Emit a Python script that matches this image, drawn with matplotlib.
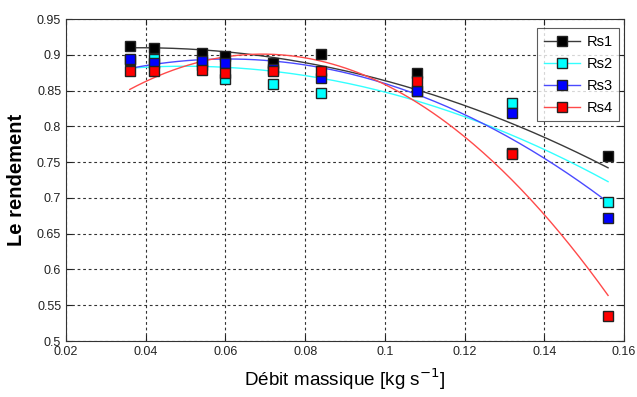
import numpy as np
import matplotlib
matplotlib.use("Agg")
import matplotlib.pyplot as plt

plt.rcParams['font.family'] = ['Liberation Sans', 'DejaVu Sans']

debit = [0.036, 0.042, 0.054, 0.060, 0.072, 0.084, 0.108, 0.132, 0.156]
rs1 = [0.913, 0.909, 0.903, 0.898, 0.889, 0.901, 0.875, 0.763, 0.758]
rs2 = [0.893, 0.894, 0.886, 0.866, 0.859, 0.846, 0.850, 0.833, 0.694]
rs3 = [0.894, 0.888, 0.891, 0.888, 0.880, 0.867, 0.850, 0.819, 0.672]
rs4 = [0.877, 0.877, 0.879, 0.874, 0.877, 0.877, 0.864, 0.761, 0.535]
names = ['Rs1', 'Rs2', 'Rs3', 'Rs4']
series = [rs1, rs2, rs3, rs4]
line_colors = ['#3a3a3a', '#33ffff', '#4a4aff', '#ff4a4a']
face_colors = ['#000000', '#00ffff', '#0000ff', '#ff0000']
fit_degree = 2

fig = plt.figure(figsize=(6.37, 3.97), dpi=100)
ax = fig.add_axes([0.1036, 0.141, 0.876, 0.811])

x = np.array(debit)
xs = np.linspace(x.min(), x.max(), 200)
for name, ys, lc, fc in zip(names, series, line_colors, face_colors):
    coef = np.polyfit(x, np.array(ys), fit_degree)
    ax.plot(xs, np.polyval(coef, xs), color=lc, lw=1.0, zorder=2)
handles = []
for name, ys, lc, fc in zip(names, series, line_colors, face_colors):
    ax.plot(debit, ys, 's', ms=7.3, mfc=fc, mec='#222222', mew=1.0, zorder=3)
    h, = ax.plot([], [], '-s', color=lc, lw=1.0, ms=7.3, mfc=fc, mec='#222222', mew=1.0, label=name)
    handles.append(h)

ax.set_xlim(0.02, 0.16)
ax.set_ylim(0.5, 0.95)
ax.set_xticks(np.arange(0.02, 0.1601, 0.02))
ax.set_xticklabels(['0.02', '0.04', '0.06', '0.08', '0.1', '0.12', '0.14', '0.16'])
ax.set_yticks(np.arange(0.5, 0.9501, 0.05))
ax.set_yticklabels(['0.5', '0.55', '0.6', '0.65', '0.7', '0.75', '0.8', '0.85', '0.9', '0.95'])
ax.tick_params(direction='in', length=4, labelsize=9, colors='#222222', top=True, right=True)
ax.tick_params(labeltop=False, labelright=False)
for sp in ax.spines.values():
    sp.set_color('#333333')
    sp.set_linewidth(0.8)
ax.grid(True, color='#333333', linestyle=(0, (2.5, 2.5)), lw=0.8)
ax.set_axisbelow(True)

ax.set_xlabel('Débit massique [kg s$^{-1}$]', fontsize=13.6, labelpad=6)
ax.set_ylabel('Le rendement', fontsize=14.5, fontweight='bold', labelpad=8)

leg = ax.legend(handles=handles, loc='upper right', bbox_to_anchor=(0.991, 0.972),
                borderaxespad=0.0,
                fontsize=10.5, frameon=True, fancybox=False, edgecolor='#333333',
                handlelength=2.5, borderpad=0.45, labelspacing=0.55, handletextpad=0.4)
leg.get_frame().set_linewidth(0.8)

fig.savefig('out.png', dpi=100)
